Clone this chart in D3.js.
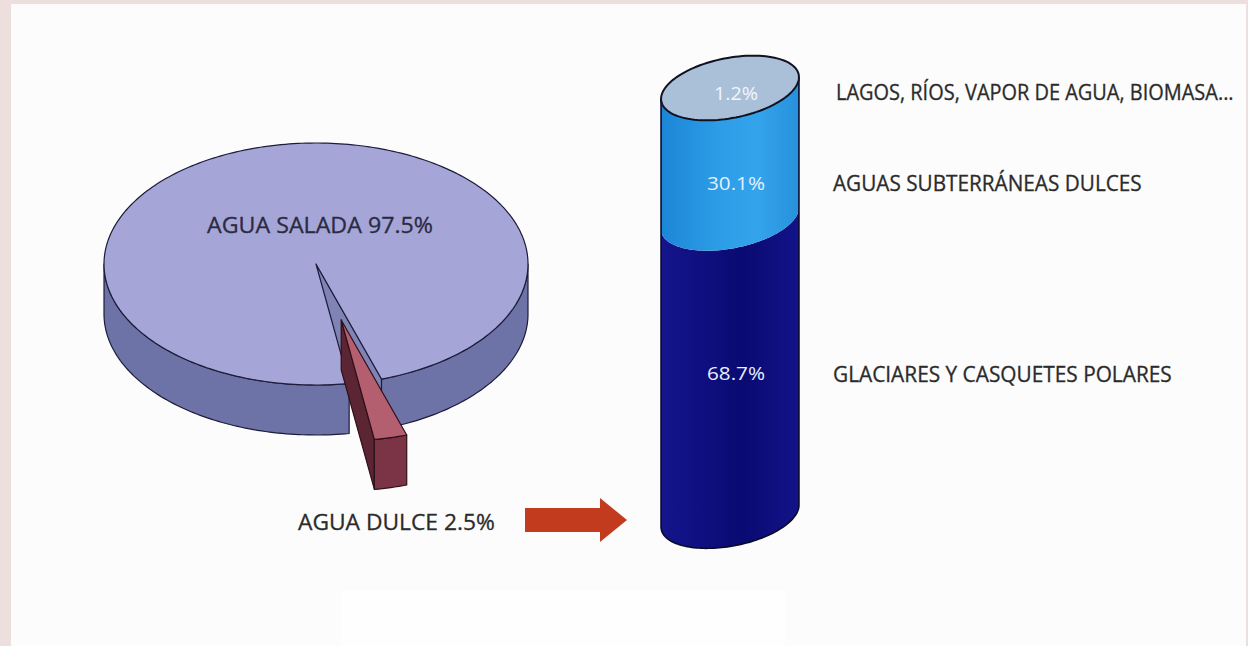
<!DOCTYPE html>
<html>
<head>
<meta charset="utf-8">
<script src="https://cdn.jsdelivr.net/npm/d3@7"></script>
<style>
  body { margin: 0; background: #eedfdf; }
  svg { display: block; }
  text { font-family: "Open Sans", "Noto Sans", sans-serif; }
</style>
</head>
<body>
<div id="chart"></div>
<script>
// agua en el planeta
const pieLabels = ["AGUA DULCE", "AGUA SALADA"];
const pieValues = [2.5, 97.5];

// reparto del agua dulce, de abajo arriba
const freshLabels = ["GLACIARES Y CASQUETES POLARES", "AGUAS SUBTERRÁNEAS DULCES", "LAGOS, RÍOS, VAPOR DE AGUA, BIOMASA..."];
const freshValues = [68.7, 30.1, 1.2];

const W = 1248, H = 646;
const svg = d3.select("#chart").append("svg").attr("width", W).attr("height", H);

svg.append("rect").attr("width", W).attr("height", H).attr("fill", "#eedfdf");
svg.append("rect").attr("x", 11).attr("y", 4).attr("width", 1235).attr("height", H).attr("fill", "#fcfcfc");
svg.append("rect").attr("x", 341).attr("y", 590).attr("width", 444).attr("height", 70).attr("rx", 3).attr("fill", "#fefefe");

// texto comprimido horizontalmente hasta un ancho dado
function fitText(g, str, x, yy, width, size, color, anchor) {
  const t = g.append("text").attr("font-size", size).attr("fill", color)
    .attr("stroke", color).attr("stroke-width", 0.3).text(str);
  const w = t.node().getComputedTextLength();
  const s = width / w;
  const x0 = anchor === "middle" ? x - width / 2 : x;
  t.attr("transform", `translate(${x0},${yy}) scale(${s},1)`);
  return t;
}

// ---------- tarta 3D ----------
const P = {cx: 316, cy: 264, rx: 212, ry: 121, depth: 50, explode: 108};
const k = P.ry / P.rx;
const pie = d3.pie().sort(null)
  .startAngle(162 * Math.PI / 180)
  .endAngle(162 * Math.PI / 180 + 2 * Math.PI);
const arcs = pie(pieValues);
const line = d3.line();

function pt(th, r, ox, oy, dz) {
  return [P.cx + ox + r * Math.cos(th), P.cy + oy + r * Math.sin(th) * k + dz];
}
function arcPts(t0, t1, ox, oy, dz) {
  const n = Math.max(2, Math.ceil(Math.abs(t1 - t0) / 0.02));
  return d3.range(n + 1).map(i => pt(t0 + (t1 - t0) * i / n, P.rx, ox, oy, dz));
}

function drawSlice(g, a, ox, oy, c) {
  const t0 = a.startAngle - Math.PI / 2, t1 = a.endAngle - Math.PI / 2;
  // caras radiales visibles
  [[t0, -Math.cos(t0)], [t1, Math.cos(t1)]].forEach(([t, vis]) => {
    if (vis <= 0) return;
    const pts = [pt(t, 0, ox, oy, 0), pt(t, P.rx, ox, oy, 0), pt(t, P.rx, ox, oy, P.depth), pt(t, 0, ox, oy, P.depth)];
    g.append("path").attr("d", line(pts) + "Z").attr("fill", c.radial).attr("stroke", c.stroke).attr("stroke-width", 1.2).attr("stroke-linejoin", "round");
  });
  // lateral exterior (mitad delantera)
  for (let kk = -1; kk <= 2; kk++) {
    const s = Math.max(t0, 2 * Math.PI * kk), e = Math.min(t1, 2 * Math.PI * kk + Math.PI);
    if (e <= s) continue;
    const pts = arcPts(s, e, ox, oy, 0).concat(arcPts(e, s, ox, oy, P.depth));
    g.append("path").attr("d", line(pts) + "Z").attr("fill", c.side).attr("stroke", c.stroke).attr("stroke-width", 1.2).attr("stroke-linejoin", "round");
  }
  // cara superior
  const top = [pt(t0, 0, ox, oy, 0)].concat(arcPts(t0, t1, ox, oy, 0));
  g.append("path").attr("d", line(top) + "Z").attr("fill", c.top).attr("stroke", c.stroke).attr("stroke-width", 1.2).attr("stroke-linejoin", "round");
}

const pieG = svg.append("g");
drawSlice(pieG, arcs[1], 0, 0, {top: "#a5a5d7", side: "#6d72a7", radial: "#7f84b4", stroke: "#1c1c3a"});
const mid = (arcs[0].startAngle + arcs[0].endAngle) / 2 - Math.PI / 2;
drawSlice(pieG, arcs[0], P.explode * Math.cos(mid), P.explode * Math.sin(mid) * k - 4,
  {top: "#b45f70", side: "#7a3445", radial: "#5c2534", stroke: "#2e1018"});

fitText(pieG, pieLabels[1] + " " + pieValues[1] + "%", P.cx + 4, P.cy - 31, 226, 22, "#2a2a42", "middle");
fitText(svg, pieLabels[0] + " " + pieValues[0] + "%", 298, 530, 197, 22, "#2b2b2b", "start");

// flecha
svg.append("path")
  .attr("d", line([[525, 508], [600, 508], [600, 498], [627, 520], [600, 542], [600, 532], [525, 532]]) + "Z")
  .attr("fill", "#c33b1e");

// ---------- cilindro ----------
const C = {cx: 730, a: 70, b: 30, phi: -11 * Math.PI / 180};
const bodyTotal = freshValues[0] + freshValues[1];
const y = d3.scaleLinear().domain([0, bodyTotal]).range([516, 88]);

function ePt(t, cy) {
  return [C.cx + C.a * Math.cos(t) * Math.cos(C.phi) - C.b * Math.sin(t) * Math.sin(C.phi),
          cy + C.a * Math.cos(t) * Math.sin(C.phi) + C.b * Math.sin(t) * Math.cos(C.phi)];
}
const tR = Math.atan2(-C.b * Math.sin(C.phi), C.a * Math.cos(C.phi));
const tL = tR + Math.PI;
function frontArc(cy, rev) {
  const n = 80;
  const pts = d3.range(n + 1).map(i => ePt(tR + (tL - tR) * i / n, cy));
  return rev ? pts.reverse() : pts;
}

const defs = svg.append("defs");
function grad(id, stops) {
  const g = defs.append("linearGradient").attr("id", id).attr("x1", 0).attr("x2", 1).attr("y1", 0).attr("y2", 0);
  stops.forEach(([o, c]) => g.append("stop").attr("offset", o).attr("stop-color", c));
}
grad("gDark", [[0, "#15158c"], [0.35, "#0e0e7e"], [0.6, "#0a0a72"], [1, "#13138a"]]);
grad("gLight", [[0, "#1c86d6"], [0.4, "#2c9ce6"], [0.7, "#33a4ec"], [1, "#2890dc"]]);
const fills = ["url(#gDark)", "url(#gLight)"];

const cylG = svg.append("g");
let acc = 0;
[0, 1].forEach(i => {
  const lo = acc, hi = acc + freshValues[i];
  acc = hi;
  const pts = frontArc(y(hi), false).concat(frontArc(y(lo), true));
  cylG.append("path").attr("d", line(pts) + "Z").attr("fill", fills[i]);
});
// contorno
cylG.append("path")
  .attr("d", line([ePt(tL, y(bodyTotal))].concat(frontArc(y(0), true)).concat([ePt(tR, y(bodyTotal))])))
  .attr("fill", "none").attr("stroke", "#0a0a2a").attr("stroke-width", 1.6);
// tapa superior
const topPts = d3.range(121).map(i => ePt(i / 120 * 2 * Math.PI, y(bodyTotal)));
cylG.append("path").attr("d", line(topPts) + "Z")
  .attr("fill", "#a9c0d8").attr("stroke", "#111122").attr("stroke-width", 2);

// porcentajes dentro del cilindro
const inY = [y(freshValues[0] / 2) + 13, y(freshValues[0] + freshValues[1] / 2) + 37, y(bodyTotal) + 12];
freshValues.forEach((v, i) => {
  cylG.append("text").attr("x", C.cx + 6).attr("y", inY[i])
    .attr("text-anchor", "middle").attr("font-size", 18).attr("fill", i === 2 ? "#f4f6fa" : "#e6eeff")
    .attr("textLength", i === 2 ? 44 : 58).attr("lengthAdjust", "spacingAndGlyphs")
    .text(v + "%");
});

// etiquetas a la derecha
const outX = [833, 833, 836];
const outY = [382, 191, 100];
const outW = [339, 309, 398];
freshLabels.forEach((l, i) => {
  fitText(svg, l, outX[i], outY[i], outW[i], 21, "#2b2b2b", "start");
});
</script>
</body>
</html>
